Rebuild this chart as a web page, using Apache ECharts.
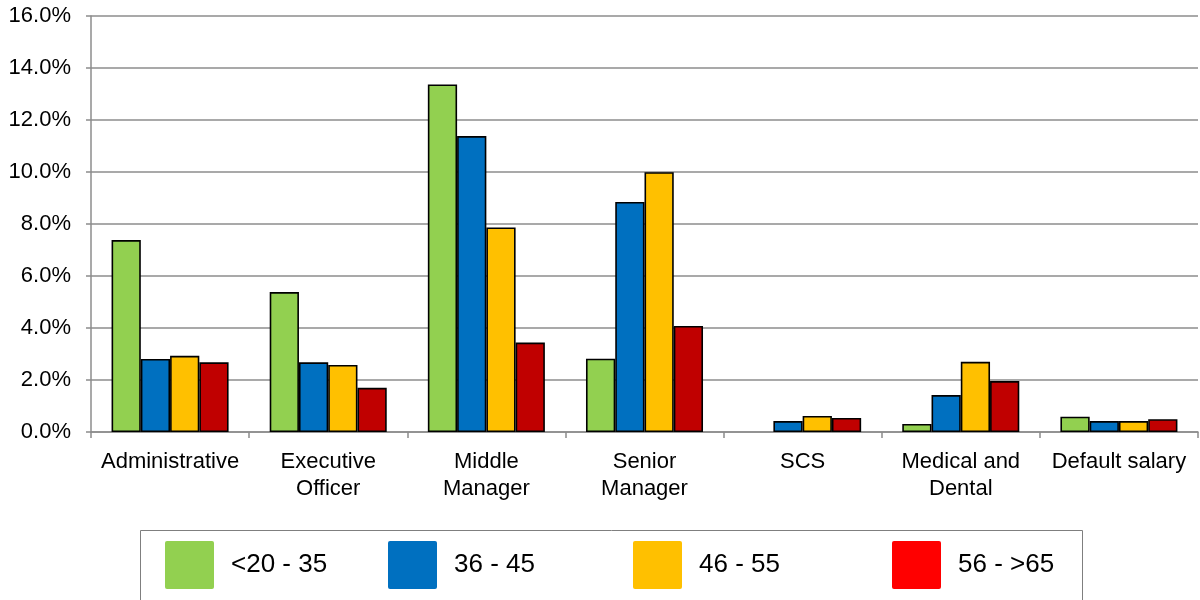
<!DOCTYPE html>
<html>
<head>
<meta charset="utf-8">
<script src="https://cdn.jsdelivr.net/npm/echarts@6/dist/echarts.min.js"></script>
<style>
  html, body { margin: 0; padding: 0; background: #fff; }
  #chart { width: 1200px; height: 600px; }
</style>
</head>
<body>
<div id="chart"></div>
<script>
// Salary band categories (x axis)
const categories = ['Administrative', 'Executive\nOfficer', 'Middle\nManager', 'Senior\nManager', 'SCS', 'Medical and\nDental', 'Default salary'];

// Age group series names
const seriesNames = ['<20 - 35', '36 - 45', '46 - 55', '56 - >65'];

// Percentage values per age group, one entry per category
const age20to35 = [7.38, 5.38, 13.37, 2.82, null, 0.31, 0.59];
const age36to45 = [2.81, 2.68, 11.38, 8.85, 0.42, 1.42, 0.42];
const age46to55 = [2.93, 2.58, 7.87, 9.99, 0.62, 2.70, 0.42];
const age56to65 = [2.68, 1.70, 3.44, 4.08, 0.54, 1.96, 0.49];

// Y axis range and step (percent)
const yMin = 0;
const yMax = 16;
const yStep = 2;

const barColors = ['#92D050', '#0070C0', '#FFC000', '#C00000'];
const legendColors = ['#92D050', '#0070C0', '#FFC000', '#FF0000'];
const legendLeft = [165, 388, 633, 892];

const seriesData = [age20to35, age36to45, age46to55, age56to65];
const font = '"Liberation Sans", Arial, sans-serif';

// Square legend swatch with slightly softened corners
const swatch = 'path://M2,0 L47,0 Q49,0 49,2 L49,46 Q49,48 47,48 L2,48 Q0,48 0,46 L0,2 Q0,0 2,0 Z';

const chart = echarts.init(document.getElementById('chart'), null, { renderer: 'canvas' });

const legends = seriesNames.map((name, i) => ({
  left: legendLeft[i],
  top: 541,
  orient: 'horizontal',
  padding: 0,
  itemWidth: 49,
  itemHeight: 48,
  icon: swatch,
  selectedMode: false,
  textStyle: { fontFamily: font, fontSize: 26, color: '#000', padding: [0, 0, 0, 12] },
  data: [{ name: name, itemStyle: { color: legendColors[i], borderWidth: 0 } }]
}));

chart.setOption({
  animation: false,
  backgroundColor: '#fff',
  textStyle: { fontFamily: font },
  grid: { left: 91, right: 2, top: 16, bottom: 168, containLabel: false },
  graphic: [{
    type: 'rect',
    shape: { x: 140.5, y: 530.5, width: 942, height: 120 },
    style: { fill: 'none', stroke: '#7f7f7f', lineWidth: 1 },
    silent: true
  }],
  legend: legends,
  xAxis: {
    type: 'category',
    data: categories,
    axisLine: { show: true, lineStyle: { color: '#8c8c8c', width: 1.5 } },
    axisTick: { show: true, alignWithLabel: false, length: 6, lineStyle: { color: '#8c8c8c', width: 1.5 } },
    axisLabel: { interval: 0, fontSize: 22, color: '#000', lineHeight: 27, margin: 16, fontFamily: font }
  },
  yAxis: {
    type: 'value',
    min: yMin,
    max: yMax,
    interval: yStep,
    axisLine: { show: true, lineStyle: { color: '#8c8c8c', width: 1.5 } },
    axisTick: { show: true, length: 5, lineStyle: { color: '#8c8c8c', width: 1.5 } },
    splitLine: { show: true, lineStyle: { color: '#8c8c8c', width: 1.5 } },
    axisLabel: {
      fontSize: 22, color: '#000', margin: 20, fontFamily: font,
      formatter: v => v.toFixed(1) + '%'
    }
  },
  series: seriesNames.map((name, i) => ({
    name: name,
    type: 'bar',
    data: seriesData[i],
    barGap: 0,
    barCategoryGap: '26%',
    itemStyle: { color: barColors[i], borderColor: '#000', borderWidth: 1.6 }
  }))
});
</script>
</body>
</html>
